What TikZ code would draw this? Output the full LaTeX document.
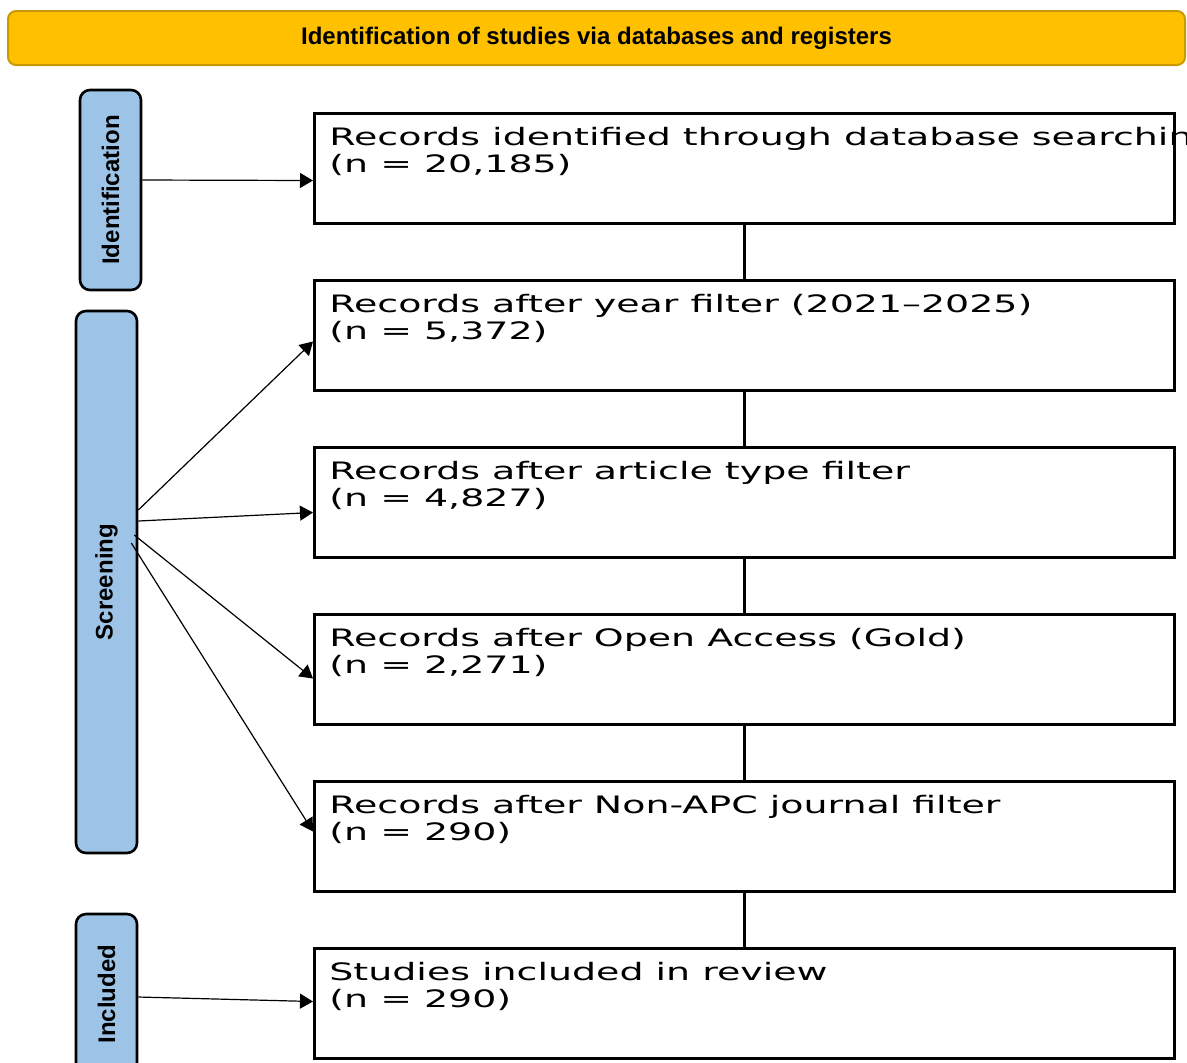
\documentclass[tikz,border=0pt]{standalone}
\usepackage{fontspec}
\setmainfont{Liberation Sans}
\newfontfamily\recfont[FakeStretch=1.58]{DejaVu Sans}
\usepackage{tikz}
\usetikzlibrary{positioning,arrows.meta}
\definecolor{banner}{HTML}{FFC000}
\definecolor{bannerline}{HTML}{C99A06}
\definecolor{phase}{HTML}{9DC3E6}

\begin{document}
\begin{tikzpicture}[x=0.5pt,y=-0.5pt,node distance=27pt,
  head/.style={draw=bannerline,line width=1pt,fill=banner,rounded corners=4pt,minimum width=588.5pt,minimum height=27pt,font=\fontsize{12}{14}\selectfont\bfseries},
  phasebox/.style={draw,line width=1.3pt,fill=phase,rounded corners=5pt,minimum width=30.5pt},
  phasetxt/.style={rotate=90,inner sep=0pt,font=\fontsize{12}{14}\selectfont\bfseries},
  rec/.style={draw,line width=1.5pt,minimum width=430pt,minimum height=55pt,inner sep=0pt},
  rectxt/.style={anchor=north west,align=left,inner sep=0pt,xshift=8pt,yshift=-7.4pt,font=\recfont\fontsize{12}{13.5}\selectfont},
  arr/.style={-{Triangle[length=6.5pt,width=7.5pt]},line width=0.6pt}]
\useasboundingbox (0,0) rectangle (1187,1062);
\node[head] (title) at (596.5,38) {Identification of studies via databases and registers};
% phases on the left
\node[phasebox,minimum height=100pt] (idn) at (110.5,190) {};
\node[phasetxt] (idnt) at (idn) {Identification};
\node[phasebox,minimum height=271pt] (scr) at (106.5,582) {};
\node[phasetxt] (scrt) at (scr) {Screening};
\node[phasebox,minimum height=80pt] (inc) at (106.5,994) {};
\node[phasetxt] (inct) at (inc) {Included};
% record boxes
\node[rec,anchor=north west] (r1) at (313,112) {};
\node[rectxt] (t1) at (r1.north west) {Records identified through database searching\\(n = 20,185)};
\node[rec,below=of r1] (r2) {};
\node[rectxt] (t2) at (r2.north west) {Records after year filter (2021–2025)\\(n = 5,372)};
\node[rec,below=of r2] (r3) {};
\node[rectxt] (t3) at (r3.north west) {Records after article type filter\\(n = 4,827)};
\node[rec,below=of r3] (r4) {};
\node[rectxt] (t4) at (r4.north west) {Records after Open Access (Gold)\\(n = 2,271)};
\node[rec,below=of r4] (r5) {};
\node[rectxt] (t5) at (r5.north west) {Records after Non-APC journal filter\\(n = 290)};
\node[rec,below=of r5] (r6) {};
\node[rectxt] (t6) at (r6.north west) {Studies included in review\\(n = 290)};
\draw[line width=1.5pt] (r1)--(r2); \draw[line width=1.5pt] (r2)--(r3); \draw[line width=1.5pt] (r3)--(r4);
\draw[line width=1.5pt] (r4)--(r5); \draw[line width=1.5pt] (r5)--(r6);
\draw[arr] ([yshift=5pt]idn.east) -- ([yshift=-6pt]r1.west);
\draw[arr] ([yshift=36pt]scr.east) -- ([yshift=-3pt]r2.west);
\draw[arr] ([yshift=30.5pt]scr.east) -- ([yshift=-5pt]r3.west);
\draw[arr] ([xshift=-2pt,yshift=23.5pt]scr.east) -- ([yshift=-4.5pt]r4.west);
\draw[arr] ([xshift=-3.5pt,yshift=19.5pt]scr.east) -- ([yshift=2.5pt]r5.west);
\draw[arr] ([yshift=-1.5pt]inc.east) -- ([yshift=1pt]r6.west);
\end{tikzpicture}
\end{document}
